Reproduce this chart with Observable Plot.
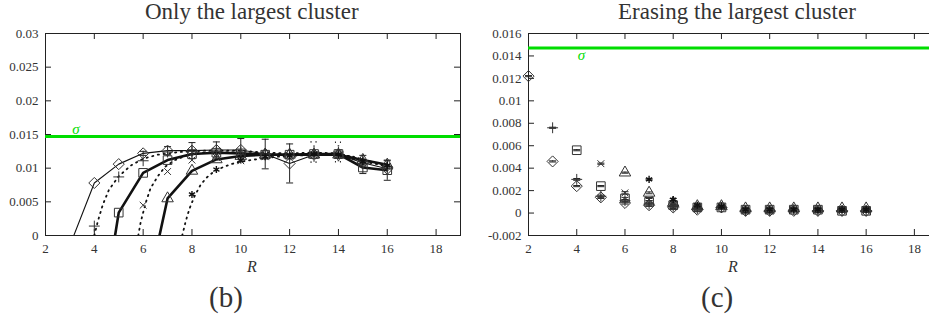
<!DOCTYPE html>
<html><head><meta charset="utf-8">
<script src="https://cdn.jsdelivr.net/npm/d3@7"></script>
<script src="https://cdn.jsdelivr.net/npm/@observablehq/plot@0.6"></script>
<style>
body{margin:0;background:#fff;}
#wrap{position:relative;width:929px;height:322px;overflow:hidden;font-family:"Liberation Serif",serif;background:#fff;}
#wrap svg, #wrap svg text{font-family:"Liberation Serif",serif !important;}
.abs{position:absolute;white-space:nowrap;color:#333;line-height:1;font-family:"Liberation Serif",serif;}
.panel{position:absolute;top:0;}
</style></head><body><div id="wrap"></div>
<script>
// ---------- axes ----------
const xTicks = [2,4,6,8,10,12,14,16,18];
const yTicksLeft = [0,0.005,0.01,0.015,0.02,0.025,0.03];
const yTicksRight = [-0.002,0,0.002,0.004,0.006,0.008,0.01,0.012,0.014,0.016];
const sigma = 0.0147;
const sigmaLabelLeft = [3.25, 0.0158];
const sigmaLabelRight = [4.2, 0.0141];

// ---------- panel (b): only the largest cluster ----------
const rLeft = [4,5,6,7,8,9,10,11,12,13,14,15,16];
const diamondLeft  = [0.0078,0.0106,0.0122,0.0126,0.0126,0.0127,0.0127,0.0121,0.0107,0.0120,0.0120,0.0108,0.0099];
const plusLeft     = [0.0014,0.0087,0.0111,0.0124,0.0125,0.0125,0.0124,0.0121,0.0119,0.0124,0.0124,0.0110,0.0102];
const squareLeft   = [null,0.0034,0.0093,0.0112,0.0121,0.0123,0.0122,0.0120,0.0120,0.0121,0.0121,0.0101,0.0097];
const timesLeft    = [null,null,0.0045,0.0095,0.0112,0.0116,0.0111,0.0117,0.0119,0.0120,0.0119,0.0107,0.0102];
const triangleLeft = [null,null,null,0.0055,0.0096,0.0113,0.0118,0.0120,0.0120,0.0120,0.0120,0.0112,0.0105];
const starLeft     = [null,null,null,null,0.0061,0.0098,0.0112,0.0117,0.0119,0.0121,0.0120,0.0110,0.0104];
// error bars (half widths), null = none drawn
const diamondLeftErr = [null,null,0.0003,0.0006,0.0012,0.0012,0.0017,0.0022,0.0029,null,null,null,null];
const plusLeftErr    = [null,null,null,null,null,null,null,null,null,0.0015,0.00145,null,null];
const squareLeftErr  = [null,null,null,null,null,null,null,null,null,null,0.0006,0.0009,0.0015];
const triangleLeftErr= [null,null,null,null,null,null,null,null,null,null,null,0.0007,0.0006];
// zero crossings of the solid lines
const diamondZeroR = 3.16, squareZeroR = 4.85, triangleZeroR = 6.67;
// dotted fitted curves
const plusCurveR  = [4.0,4.15,4.35,4.6,5.0,5.5,6.0,6.6,7.5,8.5,10,11,12,13,14,15,16];
const plusCurveV  = [0,0.0022,0.0046,0.0068,0.0088,0.0104,0.0114,0.0120,0.0124,0.0126,0.0126,0.0123,0.0122,0.0123,0.0122,0.0112,0.0104];
const timesCurveR = [5.8,5.9,6.1,6.3,6.6,6.9,7.3,7.8,8.4,9,10,11,12,13,14,15,16];
const timesCurveV = [0,0.0020,0.0048,0.0070,0.0088,0.0102,0.0112,0.0119,0.0123,0.0124,0.0123,0.0121,0.0121,0.0121,0.0120,0.0110,0.0103];
const starCurveR  = [7.6,7.75,7.9,8.1,8.35,8.6,8.9,9.3,9.7,10.2,10.8,11.5,12.5,13.5,14.5,15.5,16];
const starCurveV  = [0,0.0022,0.0040,0.0058,0.0075,0.0086,0.0095,0.0102,0.0107,0.0111,0.0114,0.0117,0.0119,0.0120,0.0118,0.0108,0.0104];

// ---------- panel (c): erasing the largest cluster ----------
const diamondRightR = [2,3,4,5,6,7,8,9,10,11,12,13,14,15,16];
const diamondRight  = [0.0122,0.0046,0.0024,0.0014,0.0009,0.0007,0.0005,0.0003,0.0005,0.0002,0.0002,0.0002,0.0002,0.0002,0.0002];
const plusRightR    = [3,4,5,6,7,8,9,10,11,12,13,14,15,16];
const plusRight     = [0.0076,0.0030,0.0015,0.0011,0.0008,0.0006,0.0004,0.0005,0.0002,0.0002,0.0003,0.0002,0.0002,0.0002];
const squareRightR  = [4,5,6,7,8,9,10,11,12,13,14,15,16];
const squareRight   = [0.0056,0.0024,0.0013,0.0010,0.0007,0.0005,0.0005,0.0003,0.0003,0.0003,0.0003,0.0002,0.0002];
const timesRightR   = [5,6,7,8,9,10,11,12,13,14,15,16];
const timesRight    = [0.0044,0.0018,0.0012,0.0008,0.0005,0.0006,0.0003,0.0003,0.0003,0.0003,0.0002,0.0002];
const triangleRightR= [6,7,8,9,10,11,12,13,14,15,16];
const triangleRight = [0.0036,0.0018,0.0009,0.0006,0.0006,0.0004,0.0004,0.0004,0.0004,0.0004,0.0004];
const starRightR    = [7,8,9,10,11,12,13,14,15,16];
const starRight     = [0.0030,0.0012,0.0007,0.0006,0.0003,0.0003,0.0003,0.0003,0.0003,0.0003];
const diamondRightErr  = [0.00005,0.00005,0.00005,0.0001,0.0001,0.0001,0.0001,0.00015,0.0001,0.00015,0.00015,0.0001,0.0001,0.0001,0.0001];
const plusRightErr     = [0.00005,0.00008,0.0001,0.0001,0.0001,0.00012,0.00015,0.00012,0.0002,0.0002,0.00015,0.00015,0.00012,0.00012];
const squareRightErr   = [0.00005,0.00005,0.0001,0.0001,0.0001,0.00015,0.0001,0.0001,0.0001,0.0001,0.0001,0.0001,0.0001];
const timesRightErr    = [0.00005,0.0001,0.0001,0.0001,0.00012,0.0001,0.0001,0.0001,0.0001,0.0001,0.0001,0.0001];
const triangleRightErr = [0.00005,0.00008,0.0001,0.0001,0.0001,0.0001,0.0001,0.0001,0.0001,0.0001,0.0001];
const starRightErr     = [0.00005,0.0001,0.0001,0.0001,0.0001,0.0001,0.0001,0.0001,0.0001,0.0001];

// ---------- helpers ----------
const ink = "#222", green = "#00dd00";
const serif = "Liberation Serif";
function rows(Rs, vals, errs) {
  return Rs.map((R, i) => ({R, v: vals[i], e: errs ? errs[i] : null})).filter(d => d.v != null);
}
const capWide = {draw(ctx) { ctx.moveTo(-3.5, 0); ctx.lineTo(3.5, 0); }};
const capNarrow = {draw(ctx) { ctx.moveTo(-3.5, 0); ctx.lineTo(3.5, 0); }};
const fmt = d => String(+d.toFixed(4));

function frameMarks(yTicks, plotW, plotH) {
  return [
    Plot.frame({stroke: ink, strokeWidth: 1}),
    Plot.tickX(xTicks, {x: d => d, insetTop: plotH - 6, stroke: ink}),
    Plot.tickX(xTicks, {x: d => d, insetBottom: plotH - 6, stroke: ink}),
    Plot.tickY(yTicks, {y: d => d, insetRight: plotW - 6, stroke: ink}),
    Plot.tickY(yTicks, {y: d => d, insetLeft: plotW - 6, stroke: ink}),
    Plot.axisX(xTicks, {tickSize: 0, tickPadding: 8, label: null, tickFormat: d => d, fill: "#333", fontSize: 13, fontFamily: serif}),
    Plot.axisY(yTicks, {tickSize: 0, tickPadding: 7, label: null, tickFormat: fmt, fill: "#333", fontSize: 13, fontFamily: serif}),
    Plot.ruleY([sigma], {y: d => d, stroke: green, strokeWidth: 3})
  ];
}
function errMarks(data, dotted, capSym) {
  const d = data.filter(r => r.e != null);
  const opt = {stroke: ink, strokeWidth: dotted ? 1.6 : 1, strokeDasharray: dotted ? "1,4" : null};
  return [
    Plot.ruleX(d, {x: "R", y1: r => r.v - r.e, y2: r => r.v + r.e, ...opt}),
    Plot.dot(d, {x: "R", y: r => r.v - r.e, symbol: capSym, r: 3, fill: "none", ...opt}),
    Plot.dot(d, {x: "R", y: r => r.v + r.e, symbol: capSym, r: 3, fill: "none", ...opt})
  ];
}
const markerStyle = {fill: "none", stroke: "#333", strokeWidth: 1};
function markers(data, symbol, r) {
  return Plot.dot(data, {x: "R", y: "v", symbol, r, ...markerStyle});
}
function starMarks(data) {
  return Plot.dot(data, {x: "R", y: "v", symbol: "asterisk", r: 3.3, fill: "none", stroke: "#111", strokeWidth: 1.4});
}

// ---------- panel (b) ----------
const dL = rows(rLeft, diamondLeft, diamondLeftErr);
const pL = rows(rLeft, plusLeft, plusLeftErr);
const sL = rows(rLeft, squareLeft, squareLeftErr);
const tL = rows(rLeft, timesLeft, null);
const triL = rows(rLeft, triangleLeft, triangleLeftErr);
const stL = rows(rLeft, starLeft, null);
const curve = (Rs, Vs) => Rs.map((R, i) => ({R, v: Vs[i]}));
const dotted = {stroke: "#111", strokeWidth: 1.8, strokeDasharray: "1.2,4.6", clip: true};

const left = Plot.plot({
  width: 465, height: 322,
  marginLeft: 45, marginRight: 5, marginTop: 33, marginBottom: 87,
  x: {domain: [2, 19]},
  y: {domain: [0, 0.03]},
  style: {fontFamily: "Liberation Serif, serif", fontSize: "13px", background: "transparent", overflow: "visible"},
  marks: [
    ...frameMarks(yTicksLeft, 415, 202),
    Plot.text([sigmaLabelLeft], {x: d => d[0], y: d => d[1], text: () => "σ", fill: green, fontSize: 15, fontStyle: "italic", fontFamily: serif}),
    Plot.line(curve(plusCurveR, plusCurveV), {x: "R", y: "v", ...dotted}),
    Plot.line(curve(timesCurveR, timesCurveV), {x: "R", y: "v", ...dotted}),
    Plot.line(curve(starCurveR, starCurveV), {x: "R", y: "v", ...dotted}),
    Plot.line([{R: diamondZeroR, v: 0}, ...dL], {x: "R", y: "v", stroke: "#111", strokeWidth: 1.1, clip: true}),
    Plot.line([{R: squareZeroR, v: 0}, ...sL], {x: "R", y: "v", stroke: "#111", strokeWidth: 2.6, clip: true}),
    Plot.line([{R: triangleZeroR, v: 0}, ...triL], {x: "R", y: "v", stroke: "#111", strokeWidth: 2.6, clip: true}),
    ...errMarks(dL, false, capWide), ...errMarks(pL, true, capWide), ...errMarks(sL, false, capWide), ...errMarks(triL, false, capWide),
    markers(dL, "diamond2", 5),
    markers(pL, "plus", 3.6),
    markers(sL, "square2", 5.5),
    markers(tL, "times", 3.2),
    markers(triL, "triangle2", 5.5),
    starMarks(stL)
  ]
});

// ---------- panel (c) ----------
const dR = rows(diamondRightR, diamondRight, diamondRightErr);
const pR = rows(plusRightR, plusRight, plusRightErr);
const sR = rows(squareRightR, squareRight, squareRightErr);
const tR = rows(timesRightR, timesRight, timesRightErr);
const triR = rows(triangleRightR, triangleRight, triangleRightErr);
const stR = rows(starRightR, starRight, starRightErr);

const right = Plot.plot({
  width: 480, height: 322,
  marginLeft: 64, marginRight: 6, marginTop: 33, marginBottom: 87,
  x: {domain: [2, 19]},
  y: {domain: [-0.002, 0.016]},
  style: {fontFamily: "Liberation Serif, serif", fontSize: "13px", background: "transparent", overflow: "visible"},
  marks: [
    ...frameMarks(yTicksRight, 410, 202),
    Plot.text([sigmaLabelRight], {x: d => d[0], y: d => d[1], text: () => "σ", fill: green, fontSize: 15, fontStyle: "italic", fontFamily: serif}),
    ...errMarks(dR, false, capNarrow), ...errMarks(pR, false, capNarrow), ...errMarks(sR, false, capNarrow),
    ...errMarks(tR, false, capNarrow), ...errMarks(triR, false, capNarrow), ...errMarks(stR, false, capNarrow),
    markers(dR, "diamond2", 5),
    markers(pR, "plus", 3.6),
    markers(sR, "square2", 5.5),
    markers(tR, "times", 3.2),
    markers(triR, "triangle2", 5.5),
    starMarks(stR)
  ]
});

// ---------- layout ----------
const wrap = document.getElementById("wrap");
function place(svg, x, w) {
  const div = document.createElement("div");
  div.className = "panel";
  div.style.left = x + "px";
  div.style.width = w + "px";
  svg.style.maxWidth = "none";
  div.appendChild(svg);
  wrap.appendChild(div);
}
place(left, 0, 465);
place(right, 464, 480);
function label(text, cx, top, size, italic) {
  const el = document.createElement("div");
  el.className = "abs";
  el.textContent = text;
  el.style.fontSize = size + "px";
  el.style.top = top + "px";
  if (italic) el.style.fontStyle = "italic";
  wrap.appendChild(el);
  el.style.left = (cx - el.offsetWidth / 2) + "px";
}
label("Only the largest cluster", 252, 0, 23);
label("Erasing the largest cluster", 737, 0, 23);
label("R", 252, 259, 16, true);
label("R", 733, 259, 16, true);
label("(b)", 226, 283, 29);
label("(c)", 717, 283, 29);
</script></body></html>
